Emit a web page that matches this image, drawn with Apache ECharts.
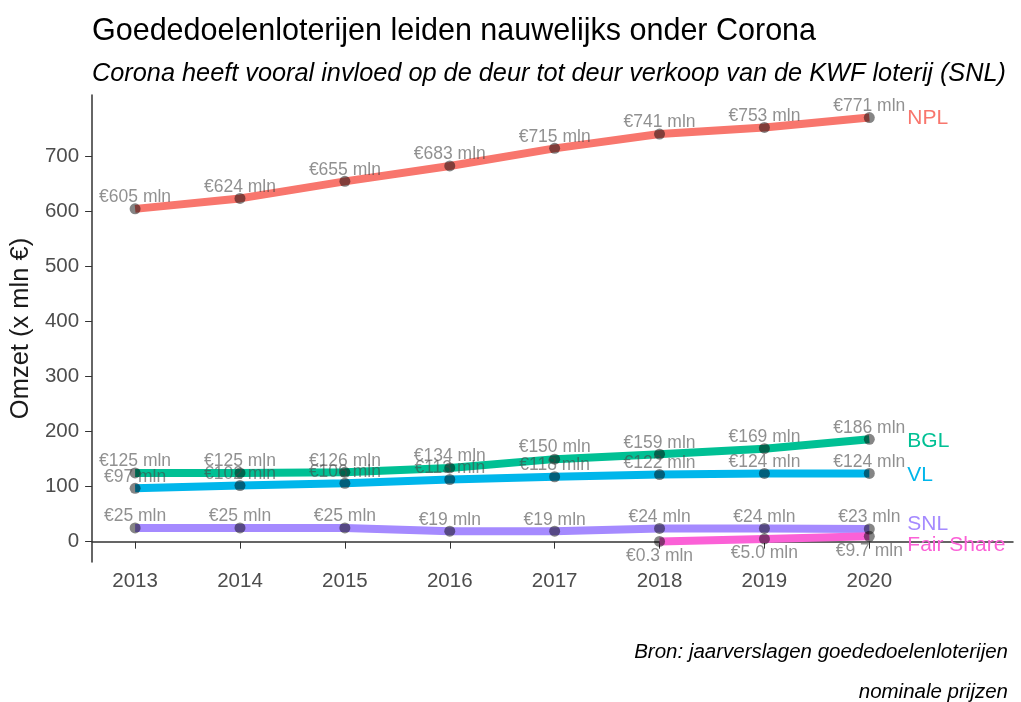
<!DOCTYPE html>
<html>
<head>
<meta charset="utf-8">
<script src="https://cdn.jsdelivr.net/npm/echarts@6/dist/echarts.min.js"></script>
<style>
  html, body { margin: 0; padding: 0; background: #fff; }
  #main { width: 1021px; height: 702px; }
</style>
</head>
<body>
<div id="main"></div>
<script>
// jaren en omzet (x mln €) per loterij
var years = [2013, 2014, 2015, 2016, 2017, 2018, 2019, 2020];
var npl = [605, 624, 655, 683, 715, 741, 753, 771];
var bgl = [125, 125, 126, 134, 150, 159, 169, 186];
var vl = [97, 102, 106, 113, 118, 122, 124, 124];
var snl = [25, 25, 25, 19, 19, 24, 24, 23];
var fairShare = [null, null, null, null, null, 0.3, 5.0, 9.7];
var yTicks = [0, 100, 200, 300, 400, 500, 600, 700];

var groups = [
    { name: 'NPL', values: npl, color: '#F8766D', below: false, endOffset: 1 },
    { name: 'BGL', values: bgl, color: '#00C094', below: false, endOffset: 2 },
    { name: 'VL', values: vl, color: '#00B6EB', below: false, endOffset: 2 },
    { name: 'SNL', values: snl, color: '#A58AFF', below: false, endOffset: -5 },
    { name: 'Fair Share', values: fairShare, color: '#FB61D7', below: true, endOffset: 9 }
];

function pairs(vals) {
    var out = [];
    for (var i = 0; i < years.length; i++) {
        if (vals[i] !== null) out.push([years[i], vals[i]]);
    }
    return out;
}

function fmt(v) {
    return '€' + (v < 10 ? v.toFixed(1) : v) + ' mln';
}

var series = [];
groups.forEach(function (g) {
    series.push({
        name: g.name,
        type: 'line',
        data: pairs(g.values),
        showSymbol: false,
        z: 2,
        lineStyle: { color: g.color, width: 8 },
        itemStyle: { color: g.color },
        endLabel: {
            show: true,
            formatter: g.name,
            color: g.color,
            fontSize: 21,
            distance: 38,
            offset: [0, g.endOffset],
            fontFamily: 'Liberation Sans'
        },
        emphasis: { disabled: true }
    });
});
groups.forEach(function (g) {
    series.push({
        name: g.name + ' punten',
        type: 'scatter',
        data: pairs(g.values),
        symbolSize: 11,
        z: 3,
        itemStyle: { color: 'rgba(0,0,0,0.6)' },
        label: {
            show: true,
            position: g.below ? 'bottom' : 'top',
            distance: g.below ? 0 : -3,
            formatter: function (p) { return fmt(p.value[1]); },
            color: 'rgba(70,70,70,0.75)',
            fontSize: 17.5,
            fontFamily: 'Liberation Sans'
        },
        emphasis: { disabled: true }
    });
});

var option = {
    animation: false,
    textStyle: { fontFamily: 'Liberation Sans' },
    title: [{
        text: 'Goededoelenloterijen leiden nauwelijks onder Corona',
        left: 87,
        top: 11,
        textStyle: { fontSize: 30.5, fontWeight: 'normal', color: '#000' }
    }, {
        text: 'Corona heeft vooral invloed op de deur tot deur verkoop van de KWF loterij (SNL)',
        left: 87,
        top: 56,
        textStyle: { fontSize: 25.3, fontWeight: 'normal', fontStyle: 'italic', color: '#000' }
    }, {
        text: 'Bron: jaarverslagen goededoelenloterijen',
        right: 8,
        top: 637,
        textStyle: { fontSize: 20.5, fontWeight: 'normal', fontStyle: 'italic', color: '#000' }
    }, {
        text: 'nominale prijzen',
        right: 8,
        top: 677,
        textStyle: { fontSize: 20.5, fontWeight: 'normal', fontStyle: 'italic', color: '#000' }
    }],
    grid: { left: 90, right: 8, top: 95, bottom: 140 },
    xAxis: {
        type: 'value',
        min: 2012.59,
        max: 2021.37,
        splitLine: { show: false },
        axisLine: { lineStyle: { color: '#333', width: 1.5 } },
        axisTick: { customValues: years, length: 7, lineStyle: { color: '#333' } },
        axisLabel: {
            customValues: years,
            color: '#4d4d4d',
            fontSize: 20.5,
            margin: 9,
            formatter: function (v) { return String(v); }
        }
    },
    yAxis: {
        type: 'value',
        min: -37,
        max: 812,
        name: 'Omzet (x mln €)',
        nameLocation: 'middle',
        nameGap: 52,
        nameTextStyle: { fontSize: 25.5, color: '#1a1a1a' },
        splitLine: { show: false },
        axisLine: { show: true, lineStyle: { color: '#333', width: 1.5 } },
        axisTick: { show: true, customValues: yTicks, length: 7, lineStyle: { color: '#333' } },
        axisLabel: { customValues: yTicks, color: '#4d4d4d', fontSize: 20.5, margin: 13 }
    },
    series: series
};

var myChart = echarts.init(document.getElementById('main'));
myChart.setOption(option);
</script>
</body>
</html>
